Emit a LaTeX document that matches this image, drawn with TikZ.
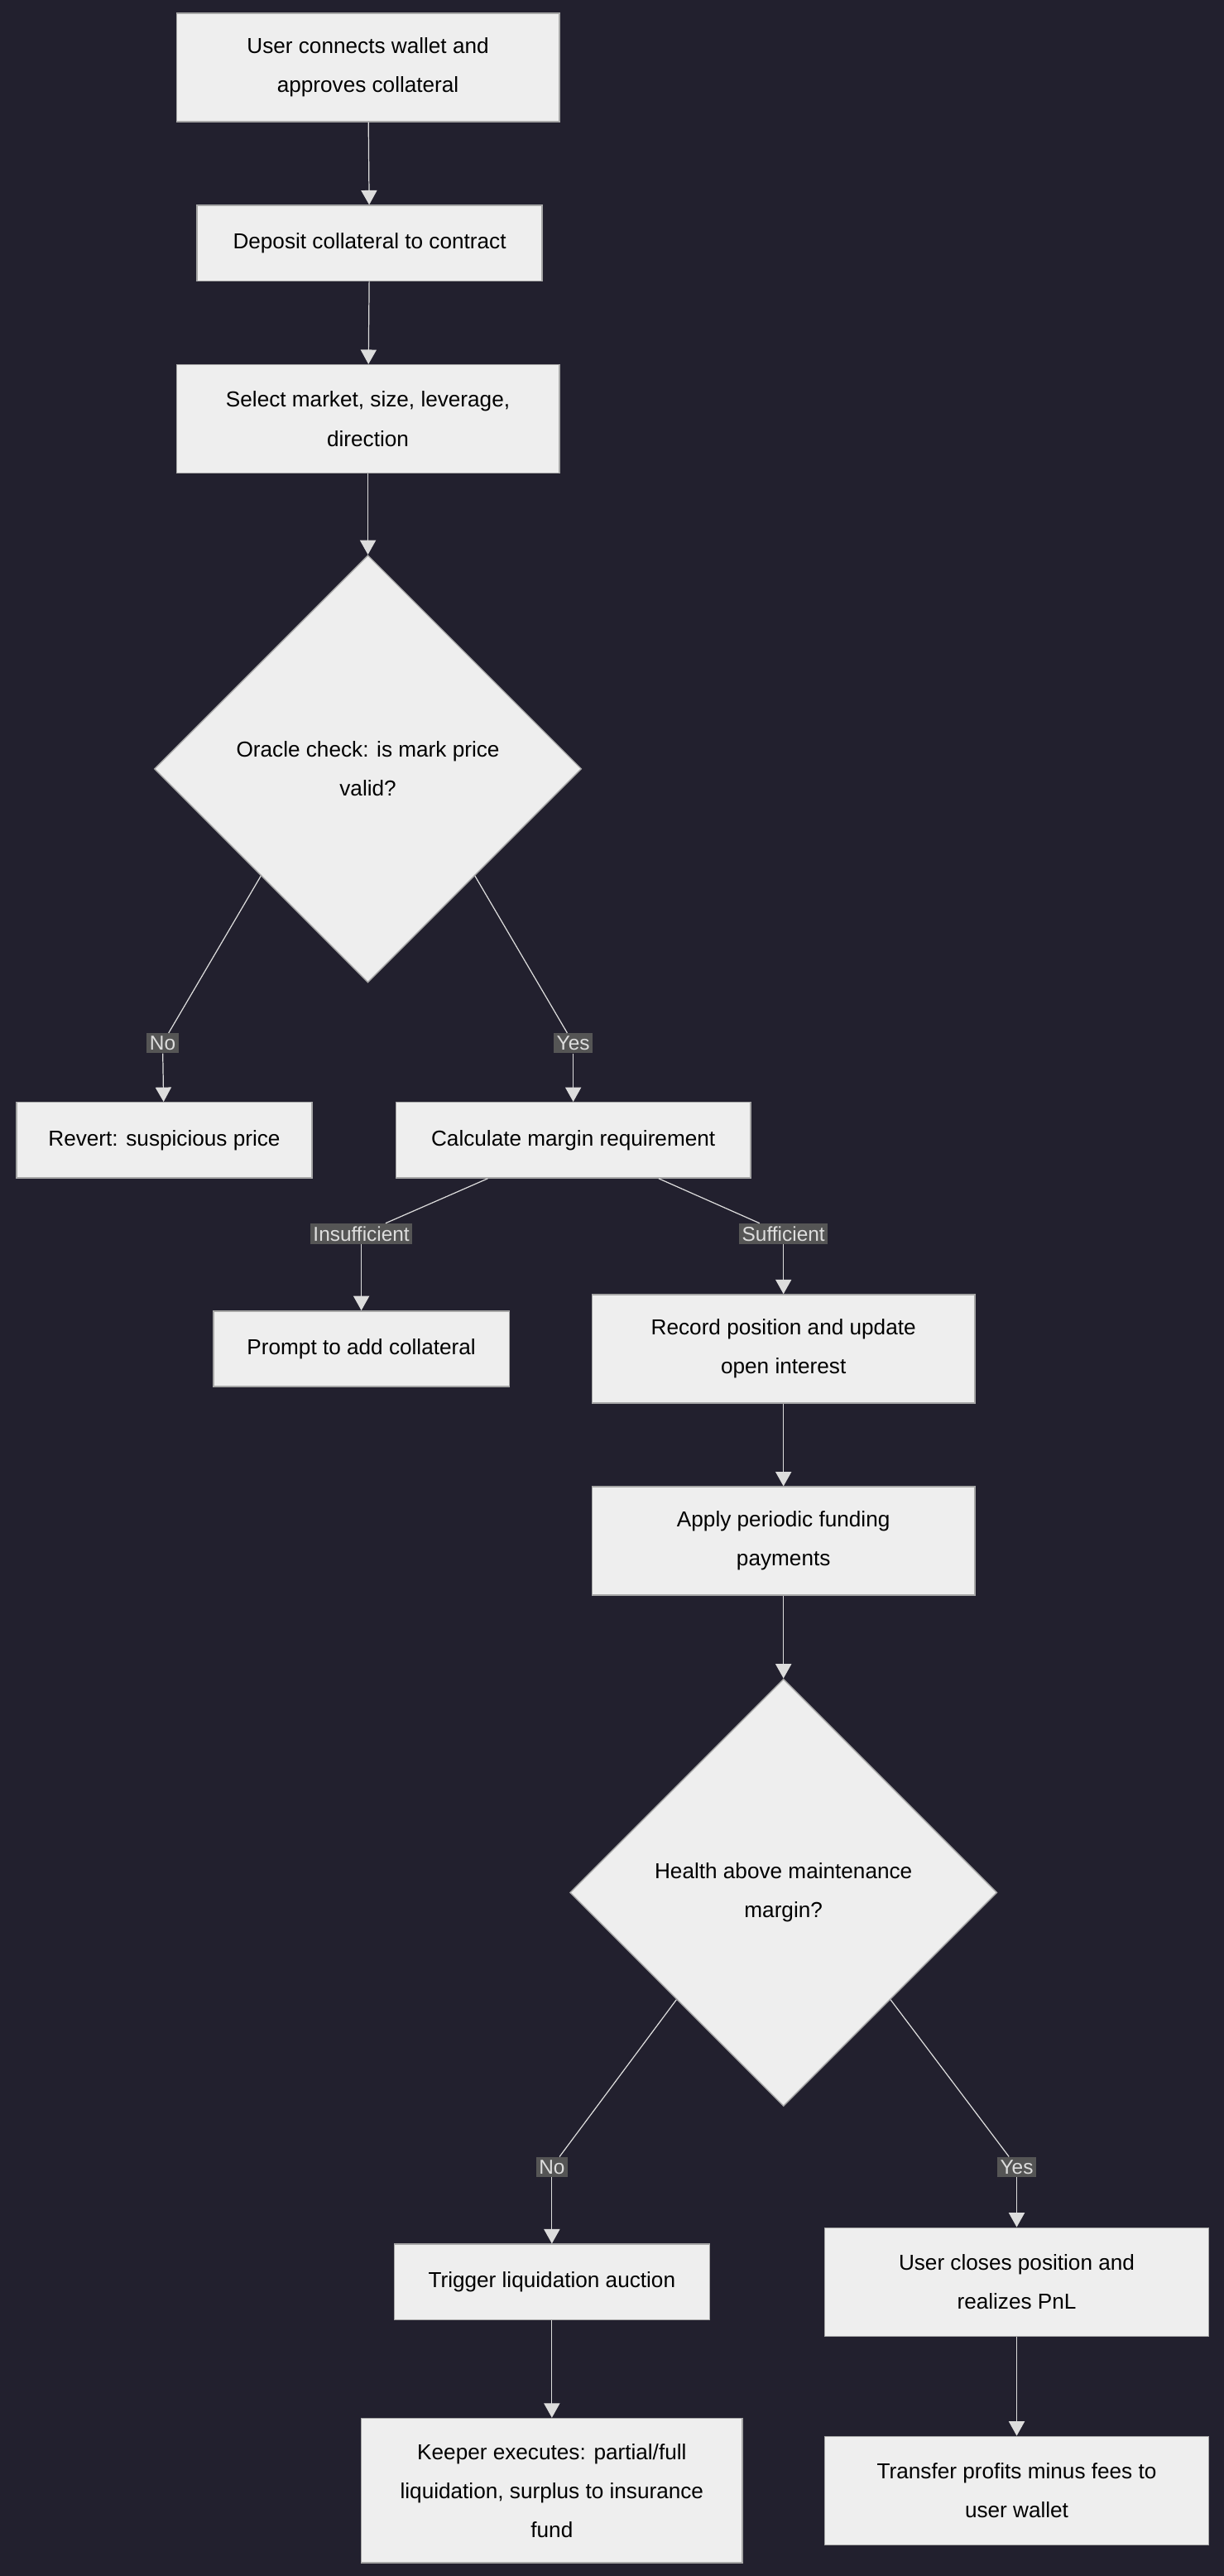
\documentclass[tikz,border=0pt]{standalone}
\usepackage{fontspec}
\setmainfont{Liberation Sans}
\usetikzlibrary{shapes.geometric,arrows.meta}
\definecolor{bgc}{HTML}{22202E}
\definecolor{boxc}{HTML}{EEEEEE}
\definecolor{linec}{HTML}{DDDDDD}
\definecolor{lblc}{HTML}{555555}
\tikzset{
  stage/.style={draw=gray!70, line width=0.8pt, fill=boxc, align=center,
    font=\fontsize{15}{27}\selectfont, inner sep=0pt},
  decide/.style={stage, diamond, aspect=1, minimum width=10.4cm, minimum height=10.4cm},
  edge/.style={draw=linec, line width=0.7pt},
  flow/.style={edge, -{Triangle[length=10pt,width=11pt]}},
  tag/.style={fill=lblc, text=linec, font=\fontsize{14}{16}\selectfont, inner sep=2pt}
}
\begin{document}
\begin{tikzpicture}[x=0.04cm,y=-0.04cm]
  \fill[bgc] (0,0) rectangle (745,1568);
  \useasboundingbox (0,0) rectangle (745,1568);
  % main column
  \node[stage, minimum width=9.32cm, minimum height=2.64cm] (connect) at (224,41) {User connects wallet and\\approves collateral};
  \node[stage, minimum width=8.4cm, minimum height=1.84cm] (deposit) at (225,148) {Deposit collateral to contract};
  \node[stage, minimum width=9.32cm, minimum height=2.64cm] (select) at (224,255) {Select market, size, leverage,\\direction};
  \node[decide] (oracle) at (224,468) {Oracle check: is mark price\\valid?};
  \node[stage, minimum width=7.2cm, minimum height=1.84cm] (revert) at (100,694) {Revert: suspicious price};
  \node[stage, minimum width=8.64cm, minimum height=1.84cm] (margin) at (349,694) {Calculate margin requirement};
  \node[stage, minimum width=7.2cm, minimum height=1.84cm] (prompt) at (220,821) {Prompt to add collateral};
  \node[stage, minimum width=9.32cm, minimum height=2.64cm] (record) at (477,821) {Record position and update\\open interest};
  \node[stage, minimum width=9.32cm, minimum height=2.64cm] (funding) at (477,938) {Apply periodic funding\\payments};
  \node[decide] (health) at (477,1152) {Health above maintenance\\margin?};
  \node[stage, minimum width=7.68cm, minimum height=1.84cm] (liquid) at (336,1389) {Trigger liquidation auction};
  \node[stage, minimum width=9.36cm, minimum height=2.64cm] (closes) at (619,1389) {User closes position and\\realizes PnL};
  \node[stage, minimum width=9.28cm, minimum height=3.52cm] (keeper) at (336,1516) {Keeper executes: partial/full\\liquidation, surplus to insurance\\fund};
  \node[stage, minimum width=9.36cm, minimum height=2.64cm] (transfer) at (619,1516) {Transfer profits minus fees to\\user wallet};
  % labels on branches
  \node[tag] (noA) at (99,635) {No};
  \node[tag] (yesA) at (349,635) {Yes};
  \node[tag] (insuf) at (220,751) {Insufficient};
  \node[tag] (suf) at (477,751) {Sufficient};
  \node[tag] (noB) at (336,1319) {No};
  \node[tag] (yesB) at (619,1319) {Yes};
  % connectors
  \draw[flow] (connect) -- (deposit);
  \draw[flow] (deposit) -- (select);
  \draw[flow] (select) -- (oracle);
  \draw[edge] (oracle.south west) -- (noA);
  \draw[flow] (noA) -- (revert);
  \draw[edge] (oracle.south east) -- (yesA);
  \draw[flow] (yesA) -- (margin);
  \draw[edge] ([xshift=-2.08cm]margin.south) -- (insuf);
  \draw[flow] (insuf) -- (prompt);
  \draw[edge] ([xshift=2.08cm]margin.south) -- (suf);
  \draw[flow] (suf) -- (record);
  \draw[flow] (record) -- (funding);
  \draw[flow] (funding) -- (health);
  \draw[edge] (health.south west) -- (noB);
  \draw[flow] (noB) -- (liquid);
  \draw[edge] (health.south east) -- (yesB);
  \draw[flow] (yesB) -- (closes);
  \draw[flow] (liquid) -- (keeper);
  \draw[flow] (closes) -- (transfer);
\end{tikzpicture}
\end{document}
